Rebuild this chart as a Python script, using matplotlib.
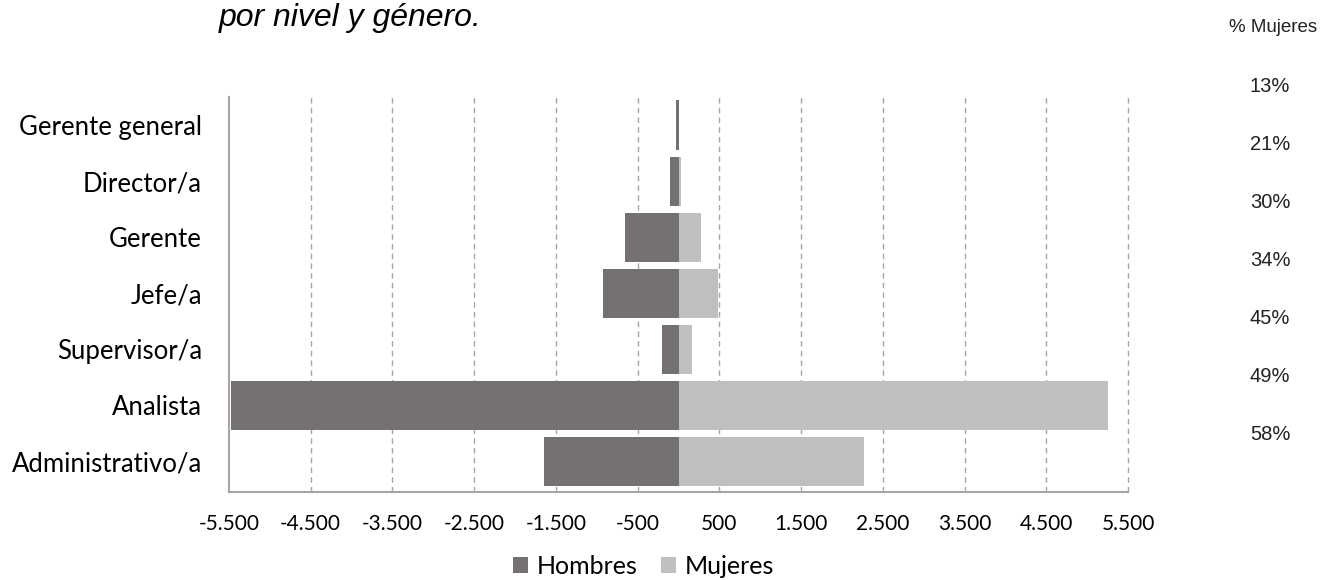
import matplotlib.pyplot as plt
from matplotlib.ticker import FuncFormatter

niveles = ["Gerente general", "Director/a", "Gerente", "Jefe/a",
           "Supervisor/a", "Analista", "Administrativo/a"]
hombres = [30, 110, 650, 930, 200, 5470, 1640]
mujeres = [5, 25, 280, 480, 165, 5250, 2270]
pct_mujeres = ["13%", "21%", "30%", "34%", "45%", "49%", "58%"]
ticks = [-5500, -4500, -3500, -2500, -1500, -500, 500, 1500, 2500, 3500, 4500, 5500]

c_hom = "#767171"
c_muj = "#bfbfbf"
c_grid = "#a6a6a6"

fig = plt.figure(figsize=(13.22, 5.8), dpi=100)
ax = fig.add_axes([0.1732, 0.1517, 0.6801, 0.6811])

y = list(range(len(niveles)))
ax.barh(y, [-h for h in hombres], height=0.875, color=c_hom, label="Hombres", zorder=3)
ax.barh(y, mujeres, height=0.875, color=c_muj, label="Mujeres", zorder=3)

ax.set_xlim(-5500, 5500)
ax.set_ylim(6.55, -0.5)
ax.set_xticks(ticks)
ax.xaxis.set_major_formatter(FuncFormatter(lambda v, p: f"{int(v):,}".replace(",", ".")))
ax.set_yticks(y)
ax.set_yticklabels(niveles)
ax.tick_params(axis="y", length=0, pad=19.5, labelsize=18.5)
ax.tick_params(axis="x", length=0, pad=16, labelsize=15)
for lab in ax.get_xticklabels() + ax.get_yticklabels():
    lab.set_family("Lato")

# dashed vertical grid, the last one sits on the right edge so don't clip it
for t in ticks[1:]:
    ax.axvline(t, color=c_grid, lw=1, ls=(0, (4, 3)), zorder=1, clip_on=False)

for s in ["top", "right"]:
    ax.spines[s].set_visible(False)
for s in ["left", "bottom"]:
    ax.spines[s].set_color(c_grid)
    ax.spines[s].set_linewidth(1.5)

fig.legend(loc="center", bbox_to_anchor=(0.4868, 0.024), ncol=2, frameon=False,
           handlelength=0.6, handleheight=0.6, handletextpad=0.35, columnspacing=0.95,
           prop={"family": "Lato", "size": 18}, borderpad=0.2)

fig.text(0.1657, 1 - 26 / 580, "por nivel y género.", style="italic",
         family="Liberation Sans", fontsize=23, va="baseline", ha="left")

fig.text(1273 / 1322, 1 - 27 / 580, "% Mujeres", family="Liberation Sans",
         fontsize=13.5, ha="center", va="center", color="#222222")
for i, p in enumerate(pct_mujeres):
    fig.text(1270 / 1322, 1 - (87 + 58 * i) / 580, p, family="Liberation Sans",
             fontsize=14.5, ha="center", va="center", color="#222222")

fig.savefig("out.png", dpi=100)
